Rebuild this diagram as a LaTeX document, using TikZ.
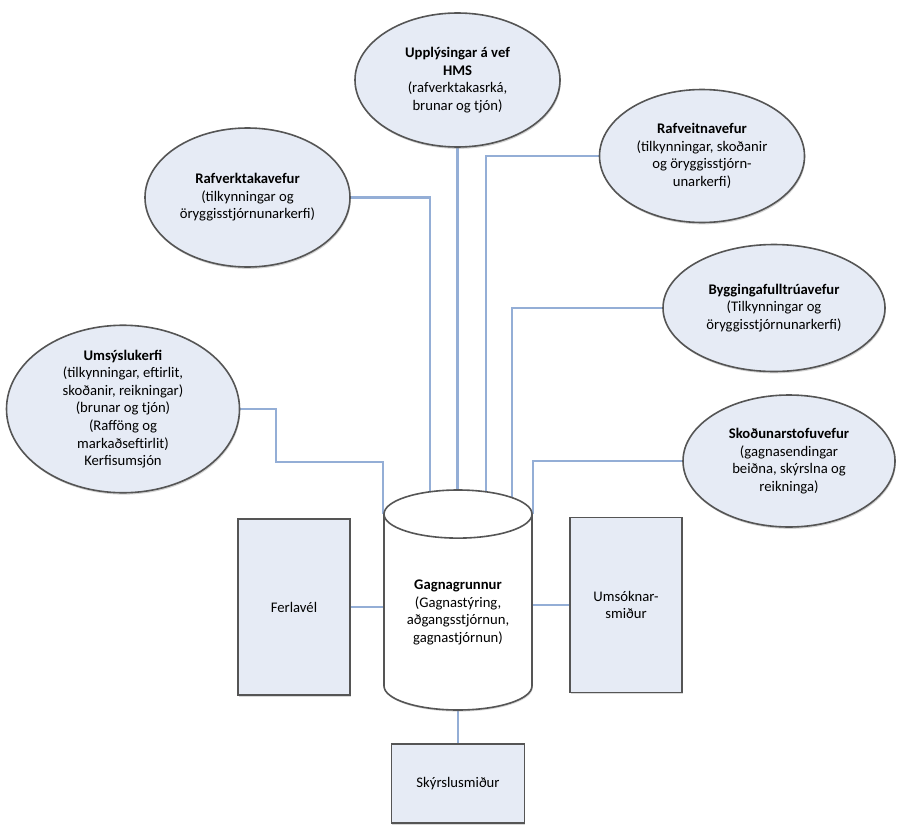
\documentclass[tikz,border=0pt]{standalone}
\usepackage{fontspec}
\setmainfont{Carlito}
\usetikzlibrary{shapes.geometric,shadows,backgrounds}
\definecolor{linkblue}{RGB}{148,174,214}
\definecolor{boxfill}{RGB}{230,235,245}
\definecolor{edgegray}{RGB}{85,85,85}
\begin{document}
\begin{tikzpicture}[x=0.75pt,y=-0.75pt]
    \tikzstyle{every node}=[font=\fontsize{11}{13.2}\selectfont,align=center,inner sep=0pt]
    \tikzstyle{web}=[ellipse,draw=edgegray,line width=1.2pt,fill=boxfill,
        drop shadow={shadow xshift=0.6pt,shadow yshift=-1.4pt,opacity=0.35}]
    \tikzstyle{unit}=[rectangle,draw=edgegray,line width=1.4pt,fill=boxfill,
        drop shadow={shadow xshift=0.6pt,shadow yshift=-1.2pt,opacity=0.3}]
    \tikzstyle{link}=[linkblue,line width=1.6pt]
    \useasboundingbox (0,0) rectangle (899,835);
    \node [web,minimum width=153.75pt,minimum height=100.5pt] (ups) at (457.5,80)
        {\textbf{Upplýsingar á vef}\\\textbf{HMS}\\(rafverktakasrká,\\brunar og tjón)};
    \node [web,minimum width=153.75pt,minimum height=104.25pt] (rvk) at (247.5,197.5)
        {\textbf{Rafverktakavefur}\\(tilkynningar og\\öryggisstjórnunarkerfi)};
    \node [web,minimum width=153.75pt,minimum height=99.75pt] (rvt) at (702,156)
        {\textbf{Rafveitnavefur}\\(tilkynningar, skoðanir\\og öryggisstjórn-\\unarkerfi)};
    \node [web,minimum width=166.5pt,minimum height=95.25pt] (byg) at (774,308)
        {\textbf{Byggingafulltrúavefur}\\(Tilkynningar og\\öryggisstjórnunarkerfi)};
    \node [web,minimum width=174.75pt,minimum height=121.5pt] (ums) at (123,409)
        {\textbf{Umsýslukerfi}\\(tilkynningar, eftirlit,\\skoðanir, reikningar)\\(brunar og tjón)\\(Rafföng og\\markaðseftirlit)\\Kerfisumsjón};
    \node [web,minimum width=159pt,minimum height=99pt] (sko) at (789,461)
        {\textbf{Skoðunarstofuvefur}\\(gagnasendingar\\beiðna, skýrslna og\\reikninga)};
    \node [cylinder,shape border rotate=90,aspect=0.47,draw=edgegray,line width=1.2pt,fill=white,
        minimum width=111pt,minimum height=165pt,anchor=shape center,
        drop shadow={shadow xshift=0.6pt,shadow yshift=-1.2pt,opacity=0.3}] (db) at (458,600)
        {\textbf{Gagnagrunnur}\\(Gagnastýring,\\aðgangsstjórnun,\\gagnastjórnun)};
    \node [unit,minimum width=84pt,minimum height=132pt] (fer) at (294,607) {Ferlavél};
    \node [unit,minimum width=84pt,minimum height=131.25pt] (sm) at (626,605) {Umsóknar-\\smiður};
    \node [unit,minimum width=99.75pt,minimum height=59.25pt] (sky) at (458,783.5) {Skýrslusmiður};
    \begin{scope}[on background layer]
    \draw [link] (rvk.east) -| ([xshift=-21pt]db.center);
    \draw [link] (ups.south) -- (ups.south |- db.center);
    \draw [link] (rvt.west) -| ([xshift=21pt]db.center);
    \draw [link] (byg.west) -| ([xshift=40.5pt]db.center);
    \draw [link] (sko.west) -| (db.after top);
    \draw [link] (ums.east) -- ++(36,0) -- ++(0,53) -| (db.before top);
    \draw [link] (fer.east) -- (fer.east -| db.center);
    \draw [link] (sm.west) -- (sm.west -| db.center);
    \draw [link] (db.south) -- (sky.north);
    \end{scope}
\end{tikzpicture}
\end{document}
